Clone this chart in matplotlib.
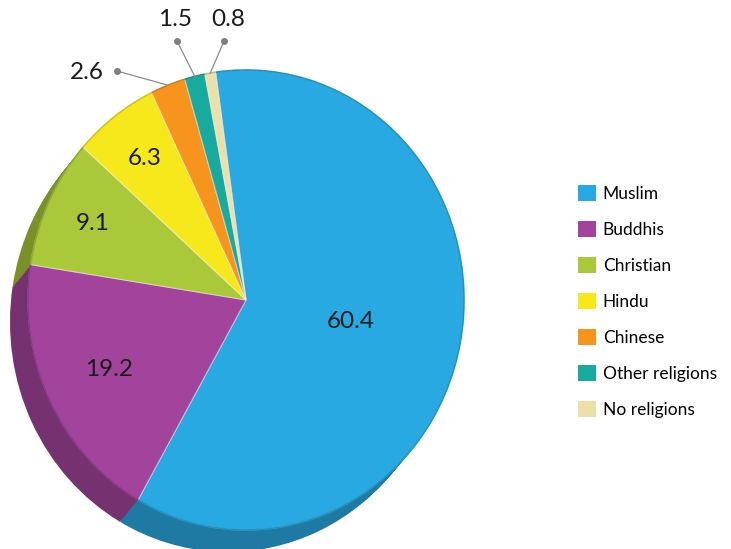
import numpy as np
import matplotlib
matplotlib.use("Agg")
import matplotlib.pyplot as plt
from matplotlib.patches import Patch, Arc
from matplotlib.colors import to_rgb

# data
religions = ["Muslim", "Buddhis", "Christian", "Hindu", "Chinese",
             "Other religions", "No religions"]
shares = [60.4, 19.2, 9.1, 6.3, 2.6, 1.5, 0.8]
labels = ["60.4", "19.2", "9.1", "6.3", "2.6", "1.5", "0.8"]
colors = ["#29a9e1", "#a3449c", "#a9c93a", "#f7e81c", "#f7941e",
          "#17aba0", "#ecdfa8"]

W, H = 731, 549
RX, RY = 218, 230          # face ellipse radii in pixels
CX, CY = 246, 300          # face centre in pixels (y down)
DEPTH = (-18, 22)          # extrusion offset in pixels
START = 98

plt.rcParams["font.family"] = ["Lato", "DejaVu Sans"]

fig = plt.figure(figsize=(W / 100, H / 100), dpi=100)
ax = fig.add_axes([0, 0, 1, 1])


def to_data(px, py):
    return px / RX, (H - py) / RY


def darker(c, f=0.72):
    r, g, b = to_rgb(c)
    return (r * f, g * f, b * f)


# extruded rim (drawn back to front)
n_layers = 14
for k in range(n_layers, 0, -1):
    t = k / n_layers
    c = to_data(CX + DEPTH[0] * t, CY + DEPTH[1] * t)
    ax.pie(shares, colors=[darker(col) for col in colors], startangle=START,
           counterclock=False, center=c, radius=1,
           wedgeprops=dict(linewidth=0))

# top face
face_c = to_data(CX, CY)
wedges, _ = ax.pie(shares, colors=colors, startangle=START, counterclock=False,
                   center=face_c, radius=1,
                   wedgeprops=dict(linewidth=0.8,
                                   edgecolor=(1, 1, 1, 0.45)))
# thin darker outline on the face edge
for w, col in zip(wedges, colors):
    ax.add_patch(Arc(face_c, 2, 2, theta1=w.theta1, theta2=w.theta2,
                     color=darker(col, 0.85), linewidth=1.2))

ax.set_aspect("auto")
ax.set_xlim(0, W / RX)
ax.set_ylim(0, H / RY)
ax.axis("off")

# labels inside the big slices
inner_r = [0.49, 0.70, 0.78, 0.77]
for w, lab, r in zip(wedges[:4], labels[:4], inner_r):
    mid = np.deg2rad((w.theta1 + w.theta2) / 2)
    ax.text(face_c[0] + r * np.cos(mid), face_c[1] + r * np.sin(mid), lab,
            ha="center", va="center", fontsize=17.5, color="#1a1a1a")

# labels outside the small slices, with leader lines
outer_pos = [(87, 72), (175, 20), (228, 20)]
dot_pos = [(117, 71), (177, 41), (224, 41)]
for w, lab, tp, dp in zip(wedges[4:], labels[4:], outer_pos, dot_pos):
    mid = np.deg2rad((w.theta1 + w.theta2) / 2)
    ex = face_c[0] + np.cos(mid)
    ey = face_c[1] + np.sin(mid)
    dx, dy = to_data(*dp)
    ax.plot([dx, ex], [dy, ey], color="#8c8c8c", linewidth=0.9)
    ax.plot(dx, dy, "o", color="#7f7f7f", markersize=4)
    tx, ty = to_data(*tp)
    ax.text(tx, ty, lab, ha="center", va="center", fontsize=17.5,
            color="#1a1a1a")

handles = [Patch(facecolor=c, edgecolor="none") for c in colors]
fig.legend(handles, religions, loc="upper left",
           bbox_to_anchor=(562 / W, 1 - 169 / H), frameon=False,
           fontsize=12.5, labelspacing=1.1, handlelength=1.05,
           handleheight=1.05, handletextpad=0.4)

fig.savefig("out.png", dpi=100)
